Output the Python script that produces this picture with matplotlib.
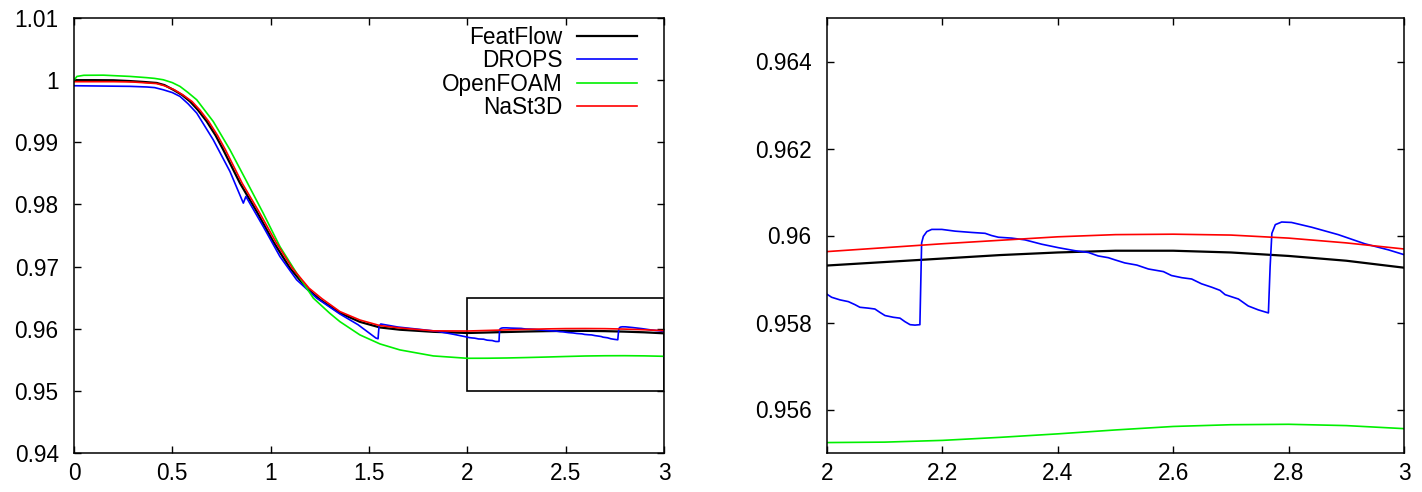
import matplotlib
matplotlib.use('Agg')
import matplotlib.pyplot as plt
from matplotlib.ticker import FormatStrFormatter, MultipleLocator
from matplotlib.patches import Rectangle

plt.rcParams['font.family'] = ['Liberation Sans', 'DejaVu Sans']

# FeatFlow (black)
featflow_t = [0.0, 0.1, 0.2, 0.285, 0.35, 0.42, 0.46, 0.505, 0.55, 0.59, 0.63, 0.675,
              0.72, 0.759, 0.844, 0.929, 1.013, 1.098, 1.183, 1.25, 1.352, 1.454,
              1.556, 1.657, 1.827, 2.0, 2.1, 2.2, 2.3, 2.4, 2.5, 2.6, 2.7, 2.8, 2.9, 3.0]
featflow_y = [1.0, 1.0, 0.99998, 0.99985, 0.99972, 0.99955, 0.9992, 0.99845, 0.9976,
              0.99657, 0.9952, 0.99335, 0.9911, 0.98879, 0.98342, 0.97886, 0.97403,
              0.96975, 0.96653, 0.9647, 0.96253, 0.9611, 0.9602, 0.95984, 0.9595,
              0.95931, 0.95939, 0.95947, 0.95955, 0.95961, 0.95965, 0.95965, 0.95961,
              0.95953, 0.95942, 0.95926]

# DROPS (blue)
drops_t = [0.0, 0.285, 0.37, 0.41, 0.454, 0.5, 0.539, 0.58, 0.624, 0.708, 0.793, 0.861,
           0.874, 0.962, 1.047, 1.132, 1.234, 1.352, 1.444, 1.535, 1.546, 1.551, 1.56,
           1.647, 1.75, 1.85, 1.93, 2.0,
           2.008, 2.0225, 2.037, 2.0485, 2.057, 2.0716, 2.083, 2.092, 2.1005, 2.115,
           2.1265, 2.135, 2.144, 2.1525, 2.161, 2.164, 2.167, 2.173, 2.1815, 2.199,
           2.222, 2.251, 2.274, 2.285, 2.297, 2.32, 2.343, 2.372, 2.401, 2.43, 2.453,
           2.47, 2.4875, 2.499, 2.516, 2.537, 2.557, 2.583, 2.597, 2.615, 2.632, 2.649,
           2.667, 2.681, 2.69, 2.713, 2.73, 2.7475, 2.765, 2.768, 2.771, 2.777, 2.788,
           2.805, 2.84, 2.886, 2.932, 2.973, 3.0]
drops_y = [0.9991, 0.999, 0.9989, 0.9988, 0.99845, 0.998, 0.99738, 0.9962, 0.9947,
           0.9904, 0.9853, 0.98021, 0.98128, 0.97645, 0.97162, 0.96787, 0.96492,
           0.96237, 0.96065, 0.9585, 0.95838, 0.9604, 0.96076, 0.96027, 0.95992,
           0.95957, 0.9591, 0.95865,
           0.95858, 0.95852, 0.95848, 0.95841, 0.95835, 0.95833, 0.95831, 0.95823,
           0.95816, 0.95812, 0.9581, 0.95802, 0.95795, 0.95794, 0.95795, 0.95983,
           0.95998, 0.96009, 0.96014, 0.96014, 0.9601, 0.96007, 0.96005, 0.96, 0.95996,
           0.95994, 0.9599, 0.9598, 0.95972, 0.95965, 0.95961, 0.95953, 0.95949,
           0.95944, 0.95937, 0.95932, 0.95923, 0.95917, 0.95908, 0.95903, 0.959,
           0.95889, 0.95881, 0.95874, 0.95864, 0.95854, 0.95838, 0.95829, 0.95822,
           0.95929, 0.96005, 0.96025, 0.96031, 0.9603, 0.96019, 0.96002, 0.95981,
           0.95967, 0.95956]

# OpenFOAM (green)
openfoam_t = [0.0, 0.015, 0.05, 0.15, 0.285, 0.37, 0.41, 0.454, 0.5, 0.539, 0.58, 0.624,
              0.708, 0.793, 0.878, 0.962, 1.047, 1.132, 1.217, 1.3, 1.352, 1.454, 1.556,
              1.657, 1.827, 2.0, 2.1, 2.2, 2.3, 2.4, 2.5, 2.6, 2.7, 2.8, 2.9, 3.0]
openfoam_y = [1.0, 1.0006, 1.00078, 1.0008, 1.0006, 1.0004, 1.00028, 1.00006, 0.9996,
              0.99899, 0.998, 0.99684, 0.99335, 0.98879, 0.98369, 0.9786, 0.97322,
              0.96894, 0.96492, 0.9625, 0.96114, 0.959, 0.95755, 0.95659, 0.95562,
              0.95524, 0.95525, 0.95529, 0.95536, 0.95544, 0.95553, 0.95561, 0.95565,
              0.95566, 0.95563, 0.95556]

# NaSt3D (red)
nast3d_t = [0.0, 0.2, 0.3, 0.42, 0.46, 0.51, 0.555, 0.6, 0.64, 0.685, 0.73, 0.77, 0.855,
            0.94, 1.025, 1.11, 1.195, 1.26, 1.352, 1.454, 1.556, 1.657, 1.827, 2.0, 2.1,
            2.2, 2.3, 2.4, 2.5, 2.6, 2.7, 2.8, 2.9, 3.0]
nast3d_y = [0.99975, 0.99975, 0.9997, 0.99945, 0.9991, 0.99845, 0.9976, 0.99657,
            0.9952, 0.99335, 0.9911, 0.98879, 0.98342, 0.97886, 0.97403, 0.96975,
            0.96653, 0.96485, 0.96276, 0.9614, 0.9605, 0.96012, 0.95966, 0.95963,
            0.95972, 0.95981, 0.95989, 0.95997, 0.96002, 0.96003, 0.96001, 0.95994,
            0.95983, 0.95969]

series = [
    ('FeatFlow', featflow_t, featflow_y, '#000000', 1.6),
    ('DROPS', drops_t, drops_y, '#0000ff', 1.2),
    ('OpenFOAM', openfoam_t, openfoam_y, '#00f000', 1.2),
    ('NaSt3D', nast3d_t, nast3d_y, '#ff0000', 1.2),
]

fig = plt.figure(figsize=(14.22, 4.92), dpi=100)
ax1 = fig.add_axes([74 / 1422, 39 / 492, 590 / 1422, 435 / 492])
ax2 = fig.add_axes([827 / 1422, 39 / 492, 577 / 1422, 435 / 492])

for name, t, y, c, lw in series:
    ax1.plot(t, y, color=c, lw=lw, label=name)
    ax2.plot(t, y, color=c, lw=lw)

# zoom box
ax1.add_patch(Rectangle((2.0, 0.95), 1.0, 0.015, fill=False, edgecolor='black', lw=1.2))

ax1.set_xlim(0, 3)
ax1.set_ylim(0.94, 1.01)
ax1.xaxis.set_major_locator(MultipleLocator(0.5))
ax1.yaxis.set_major_locator(MultipleLocator(0.01))

ax2.set_xlim(2, 3)
ax2.set_ylim(0.955, 0.965)
ax2.set_xticks([2.0, 2.2, 2.4, 2.6, 2.8, 3.0])
ax2.set_yticks([0.956, 0.958, 0.96, 0.962, 0.964])

for ax in (ax1, ax2):
    ax.xaxis.set_major_formatter(FormatStrFormatter('%g'))
    ax.yaxis.set_major_formatter(FormatStrFormatter('%g'))
    ax.tick_params(direction='in', top=True, right=True, length=5, width=1,
                   labelsize=16.3)
    ax.tick_params(axis='x', pad=6.8)
    ax.tick_params(axis='y', pad=11)
    for s in ax.spines.values():
        s.set_linewidth(1.1)

ax1.legend(loc='upper right', bbox_to_anchor=(0.954, 0.982), frameon=False,
           markerfirst=False, fontsize=16.3, handlelength=2.64, handletextpad=0.66,
           labelspacing=0.02, borderpad=0, borderaxespad=0)

fig.savefig('out.png', dpi=100)
